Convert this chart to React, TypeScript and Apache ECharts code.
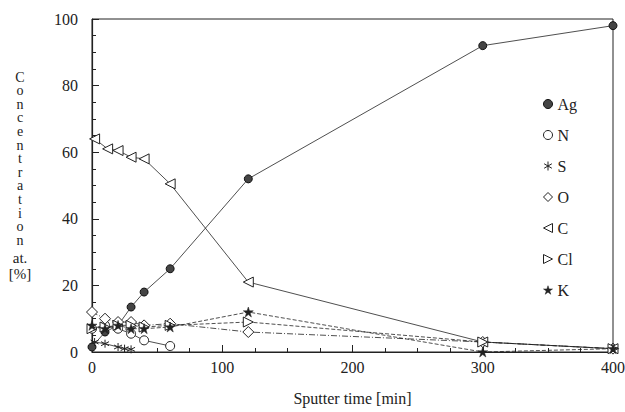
import React, { useEffect, useRef } from "react";
import * as echarts from "echarts";

const agX = [0, 10, 20, 30, 40, 60, 120, 300, 400];
const agY = [1.5, 6, 8, 13.5, 18, 25, 52, 92, 98];
const nX = [0, 10, 20, 30, 40, 60];
const nY = [7, 8, 7, 5.5, 3.5, 1.8];
const sX = [2, 10, 20, 25, 30];
const sY = [3, 2.5, 1.5, 1, 0.8];
const oX = [0, 10, 20, 30, 40, 60, 120, 300, 400];
const oY = [12, 10, 9, 9, 8, 8.5, 6, 3, 1];
const cX = [2, 12, 20, 30, 40, 60, 120, 300, 400];
const cY = [64, 61, 60.5, 58.5, 58, 50.5, 21, 3, 1];
const clX = [0, 10, 20, 30, 40, 60, 120, 300, 400];
const clY = [7, 7.5, 8, 8, 7.5, 8, 9, 3, 1];
const kX = [0, 10, 20, 30, 40, 60, 120, 300, 400];
const kY = [8, 7, 8, 7, 7, 7.5, 12, 0, 1];

const names = ["Ag", "N", "S", "O", "C", "Cl", "K"];
const yTitle = "Concentration";
const yUnit = ["at.", "[%]"];
const xTitle = "Sputter time [min]";

const FONT = "Liberation Serif";
const INK = "#222";

const SYM_TRI_LEFT = "path://M0,5 L10,0 L10,10 Z";
const SYM_TRI_RIGHT = "path://M10,5 L0,0 L0,10 Z";
const SYM_ASTER = "path://M5,0 L5,10 M0.7,2.5 L9.3,7.5 M0.7,7.5 L9.3,2.5";
const SYM_STAR =
  "path://M5,0 L6.2,3.6 L10,3.6 L6.9,5.8 L8.1,9.5 L5,7.2 L1.9,9.5 L3.1,5.8 L0,3.6 L3.8,3.6 Z";

const pairs = (xs: number[], ys: number[]) => xs.map((x, i) => [x, ys[i]]);

export default function App() {
  const ref = useRef<HTMLDivElement>(null);
  useEffect(() => {
    if (!ref.current) return;
    const chart = echarts.init(ref.current, null, { renderer: "svg" });
    const hollow = { color: "#fff", borderColor: INK, borderWidth: 1 };
    const serif = { fontFamily: FONT, fontSize: 16, color: INK };
    const mk = (
      name: string,
      xs: number[],
      ys: number[],
      symbol: string,
      size: number,
      item: any,
      lineType: any
    ) => ({
      name,
      type: "line",
      data: pairs(xs, ys),
      symbol,
      symbolSize: size,
      itemStyle: item,
      lineStyle: { color: INK, width: 0.8, type: lineType },
      z: 3,
    });
    const letterTexts = yTitle.split("").map((ch, i) => ({
      type: "text",
      x: 20,
      y: 77 + i * 13.6,
      style: {
        text: ch,
        fontFamily: FONT,
        fontSize: 14,
        fill: INK,
        align: "center",
        verticalAlign: "middle",
      },
    }));
    const unitTexts = yUnit.map((t, i) => ({
      type: "text",
      x: 20,
      y: 258 + i * 16,
      style: {
        text: t,
        fontFamily: FONT,
        fontSize: 15,
        fill: INK,
        align: "center",
        verticalAlign: "middle",
      },
    }));
    const option: any = {
      animation: false,
      textStyle: { fontFamily: FONT, color: INK },
      grid: {
        left: 92,
        right: 12,
        top: 19,
        bottom: 60,
        outerBoundsMode: "none",
        containLabel: false,
        show: true,
        borderColor: INK,
        borderWidth: 1,
      },
      xAxis: {
        type: "value",
        min: 0,
        max: 400,
        interval: 100,
        axisLine: { lineStyle: { color: INK, width: 1.2 } },
        axisTick: { inside: true, length: 7, lineStyle: { color: INK } },
        minorTick: { show: true, splitNumber: 4, length: 4, lineStyle: { color: INK } },
        splitLine: { show: false },
        axisLabel: { ...serif, margin: 7 },
        name: xTitle,
        nameLocation: "middle",
        nameGap: 38,
        nameTextStyle: serif,
      },
      yAxis: {
        type: "value",
        min: 0,
        max: 100,
        interval: 20,
        axisLine: { lineStyle: { color: INK, width: 1.2 } },
        axisTick: { inside: true, length: 7, lineStyle: { color: INK } },
        minorTick: { show: true, splitNumber: 4, length: 4, lineStyle: { color: INK } },
        splitLine: { show: false },
        axisLabel: { ...serif, margin: 14 },
      },
      legend: {
        orient: "vertical",
        left: 538,
        top: 91,
        itemGap: 15,
        itemWidth: 9,
        itemHeight: 9,
        textStyle: serif,
        data: [
          { name: "Ag", icon: "circle", itemStyle: { color: "#444", borderColor: "#111", borderWidth: 1 } },
          { name: "N", icon: "circle", itemStyle: hollow },
          { name: "S", icon: SYM_ASTER, itemStyle: hollow },
          { name: "O", icon: "diamond", itemStyle: hollow },
          { name: "C", icon: SYM_TRI_LEFT, itemStyle: hollow },
          { name: "Cl", icon: SYM_TRI_RIGHT, itemStyle: hollow },
          { name: "K", icon: SYM_STAR, itemStyle: { color: INK, borderColor: INK, borderWidth: 0.5 } },
        ],
      },
      graphic: [...letterTexts, ...unitTexts],
      series: [
        mk(names[0], agX, agY, "circle", 8, { color: "#444", borderColor: "#111", borderWidth: 1 }, "solid"),
        mk(names[1], nX, nY, "circle", 9, hollow, "solid"),
        mk(names[2], sX, sY, SYM_ASTER, 8, hollow, "solid"),
        mk(names[3], oX, oY, "diamond", 11, hollow, [6, 2, 1, 2]),
        mk(names[4], cX, cY, SYM_TRI_LEFT, 10, hollow, "solid"),
        mk(names[5], clX, clY, SYM_TRI_RIGHT, 10, hollow, [4, 2]),
        mk(names[6], kX, kY, SYM_STAR, 10, { color: INK, borderColor: INK, borderWidth: 0.5 }, [4, 2]),
      ],
    };
    chart.setOption(option);
    return () => chart.dispose();
  }, []);
  return (
    <div
      ref={ref}
      style={{ position: "fixed", left: 0, top: 0, width: 625, height: 412, background: "#fff" }}
    />
  );
}
